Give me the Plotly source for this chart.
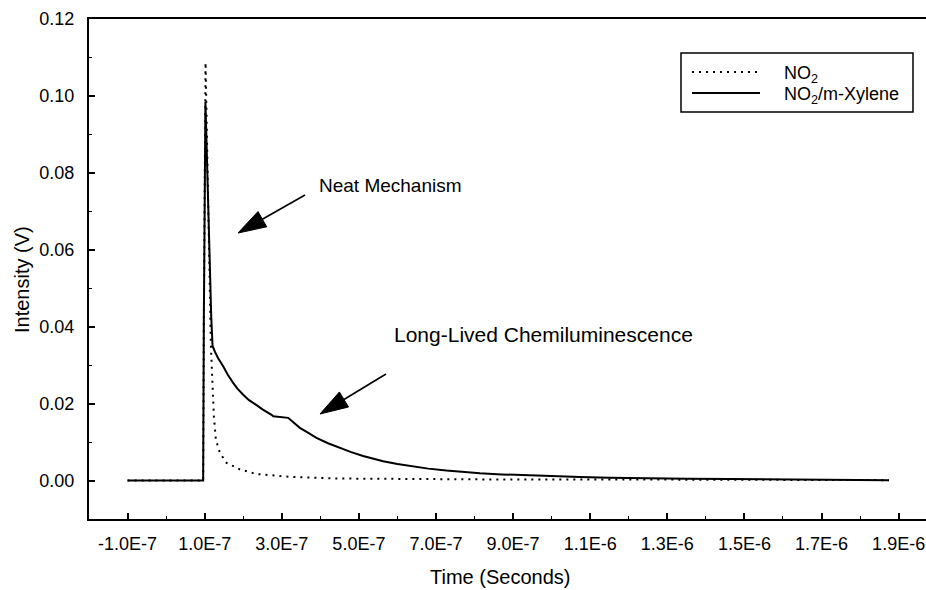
import plotly.graph_objects as go

# ---------------- data ----------------
t_no2 = [-1.0e-7, 0.0, 0.961e-7, 0.979e-7, 1.023e-7, 1.161e-7, 1.205e-7, 1.239e-7, 1.291e-7,
         1.394e-7, 1.568e-7, 1.913e-7, 2.346e-7, 3.21e-7, 4.51e-7, 5.72e-7, 8.14e-7,
         1.073e-6, 1.30e-6, 1.60e-6, 1.875e-6]
v_no2 = [0.0, 0.0, 0.0, 0.042, 0.1087, 0.035, 0.0254, 0.0167, 0.0106,
         0.0072, 0.0046, 0.0029, 0.0017, 0.00096, 0.00052, 0.00044, 0.0003,
         0.0003, 0.0002, 0.0002, 0.0001]

t_xyl = [-1.0e-7, 0.0, 0.961e-7, 0.979e-7, 1.02e-7, 1.17e-7, 1.205e-7, 1.265e-7, 1.35e-7,
         1.48e-7, 1.60e-7, 1.739e-7, 1.85e-7, 2.0e-7, 2.15e-7, 2.346e-7, 2.5e-7, 2.735e-7,
         2.78e-7, 3.166e-7, 3.469e-7, 3.70e-7, 3.90e-7, 4.2e-7, 4.51e-7, 4.8e-7, 5.11e-7,
         5.63e-7, 6.0e-7, 6.41e-7, 6.8e-7, 7.27e-7, 7.7e-7, 8.14e-7, 8.7e-7, 9.44e-7,
         1.0e-6, 1.073e-6, 1.15e-6, 1.246e-6, 1.35e-6, 1.462e-6, 1.65e-6, 1.875e-6]
v_xyl = [0.0, 0.0, 0.0, 0.042, 0.0985, 0.0426, 0.035, 0.0335, 0.0318,
         0.0297, 0.0275, 0.0254, 0.0239, 0.0223, 0.0209, 0.0196, 0.0185, 0.0171,
         0.0167, 0.0163, 0.0137, 0.0123, 0.0111, 0.0097, 0.0085, 0.0074, 0.0064,
         0.0050, 0.0043, 0.0036, 0.0031, 0.0026, 0.0022, 0.0019, 0.0016, 0.0013,
         0.0011, 0.0009, 0.0007, 0.0005, 0.00045, 0.0004, 0.0002, 0.0001]

x_tickvals = [-1e-7, 1e-7, 3e-7, 5e-7, 7e-7, 9e-7, 1.1e-6, 1.3e-6, 1.5e-6, 1.7e-6, 1.9e-6]
x_ticktext = ["-1.0E-7", "1.0E-7", "3.0E-7", "5.0E-7", "7.0E-7", "9.0E-7",
              "1.1E-6", "1.3E-6", "1.5E-6", "1.7E-6", "1.9E-6"]
x_minor = [0.0, 2e-7, 4e-7, 6e-7, 8e-7, 1.0e-6, 1.2e-6, 1.4e-6, 1.6e-6, 1.8e-6]
y_tickvals = [0.0, 0.02, 0.04, 0.06, 0.08, 0.10, 0.12]
y_minor = [-0.01, 0.01, 0.03, 0.05, 0.07, 0.09, 0.11]

series_names = ["NO<sub>2</sub>", "NO<sub>2</sub>/m-Xylene"]

# ---------------- layout geometry ----------------
W, H = 926, 590
L, R, T, B = 89, 0, 19, 71
PW, PH = W - L - R, H - T - B
FONT = "Liberation Sans, Arial, Helvetica, sans-serif"
DOT = "2px,5px"


def px(xp, yp):
    return (xp - L) / PW, (H - B - yp) / PH


def arrow_shapes(tip, tail, head_len=28.0, half_w=8.8):
    import math
    dx, dy = tail[0] - tip[0], tail[1] - tip[1]
    n = math.hypot(dx, dy)
    ux, uy = dx / n, dy / n
    bx, by = tip[0] + head_len * ux, tip[1] + head_len * uy
    nx, ny = -uy, ux
    c1 = (bx + half_w * nx, by + half_w * ny)
    c2 = (bx - half_w * nx, by - half_w * ny)
    p = [px(*tip), px(*c1), px(*c2)]
    path = "M{},{} L{},{} L{},{} Z".format(p[0][0], p[0][1], p[1][0], p[1][1], p[2][0], p[2][1])
    a = px(bx, by)
    b = px(*tail)
    return [
        dict(type="line", xref="paper", yref="paper", x0=a[0], y0=a[1], x1=b[0], y1=b[1],
             line=dict(color="black", width=1.6)),
        dict(type="path", xref="paper", yref="paper", path=path,
             fillcolor="black", line=dict(color="black", width=1)),
    ]


fig = go.Figure()
fig.add_trace(go.Scatter(x=t_no2, y=v_no2, mode="lines", name=series_names[0],
                         line=dict(color="black", width=2, dash=DOT), showlegend=False))
fig.add_trace(go.Scatter(x=t_xyl, y=v_xyl, mode="lines", name=series_names[1],
                         line=dict(color="black", width=2), showlegend=False))

shapes = []
shapes += arrow_shapes((238, 233), (305, 195))
shapes += arrow_shapes((320, 414), (386, 374))

# legend box
lx0, ly0 = px(681, 53)
lx1, ly1 = px(913, 112)
shapes.append(dict(type="rect", xref="paper", yref="paper", x0=lx0, y0=ly0, x1=lx1, y1=ly1,
                   line=dict(color="black", width=1.5), fillcolor="white", layer="above"))
a0 = px(692, 72)
a1 = px(760, 72)
shapes.append(dict(type="line", xref="paper", yref="paper", x0=a0[0], y0=a0[1], x1=a1[0], y1=a1[1],
                   line=dict(color="black", width=2, dash=DOT)))
b0 = px(692, 93)
b1 = px(760, 93)
shapes.append(dict(type="line", xref="paper", yref="paper", x0=b0[0], y0=b0[1], x1=b1[0], y1=b1[1],
                   line=dict(color="black", width=2)))

annotations = []


def text(s, xp, yp, size, xanchor="left", angle=0):
    x, y = px(xp, yp)
    annotations.append(dict(text=s, x=x, y=y, xref="paper", yref="paper", showarrow=False,
                            xanchor=xanchor, yanchor="middle", textangle=angle,
                            font=dict(family=FONT, size=size, color="black")))


text(series_names[0], 782, 74, 18)
text(series_names[1], 782, 95, 18)
text("Neat Mechanism", 317, 186, 19)
text("Long-Lived Chemiluminescence", 392, 334, 21)
text("Time (Seconds)", 500, 577, 20, xanchor="center")
text("Intensity (V)", 22, 280, 20, xanchor="center", angle=-90)

fig.update_layout(
    width=W, height=H,
    margin=dict(l=L, r=R, t=T, b=B),
    paper_bgcolor="white", plot_bgcolor="white",
    font=dict(family=FONT, size=18, color="black"),
    shapes=shapes, annotations=annotations,
    showlegend=False,
)
fig.update_xaxes(
    range=[-2.0e-7, 1.971e-6], showgrid=False, zeroline=False,
    showline=True, linecolor="black", linewidth=2, mirror=True,
    ticks="inside", ticklen=6, tickwidth=1.5, tickcolor="black",
    tickmode="array", tickvals=x_tickvals, ticktext=x_ticktext,
    tickfont=dict(family=FONT, size=18, color="black"), ticklabelstandoff=7,
    minor=dict(ticks="inside", ticklen=3, tickwidth=1.2, tickcolor="black",
               tickmode="array", tickvals=x_minor, showgrid=False),
)
fig.update_yaxes(
    range=[-0.01, 0.12], showgrid=False, zeroline=False,
    showline=True, linecolor="black", linewidth=2, mirror=False,
    ticks="inside", ticklen=6, tickwidth=1.5, tickcolor="black",
    tickmode="array", tickvals=y_tickvals, tickformat=".2f",
    tickfont=dict(family=FONT, size=18, color="black"), ticklabelstandoff=9,
    minor=dict(ticks="inside", ticklen=3, tickwidth=1.2, tickcolor="black",
               tickmode="array", tickvals=y_minor, showgrid=False),
)

fig.write_html("out.html")
